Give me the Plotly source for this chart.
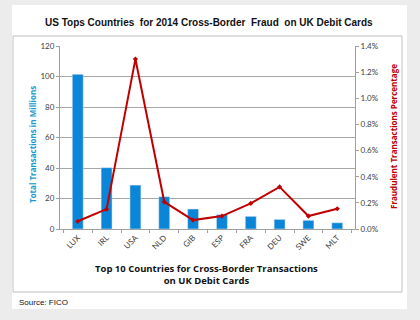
import plotly.graph_objects as go

countries = ["LUX", "IRL", "USA", "NLD", "GIB", "ESP", "FRA", "DEU", "SWE", "MLT"]
transactions_millions = [101.4, 40.2, 28.8, 21.2, 13.1, 9.4, 8.3, 6.3, 5.7, 4.1]
fraud_pct = [0.00059, 0.00152, 0.0130, 0.00208, 0.00068, 0.00099, 0.00196, 0.00322, 0.00099, 0.00155]

L, R, T, B = 60, 65, 46, 91
PW, PH = 420 - L - R, 320 - T - B


def px(x):
    return (x - L) / PW


def py(y):
    return (320 - B - y) / PH


fig = go.Figure()
fig.add_trace(go.Bar(x=countries, y=transactions_millions, marker_color="#0B85D8",
                     width=0.38, yaxis="y", showlegend=False))
fig.add_trace(go.Scatter(x=countries, y=fraud_pct, mode="lines+markers", yaxis="y2",
                         line=dict(color="#C00000", width=2),
                         marker=dict(color="#C00000", size=4, symbol="diamond"),
                         showlegend=False))

tickfont = dict(family="Lato, Arial, sans-serif", size=8, color="#404040")
boldfam = "Open Sans, Noto Sans, sans-serif"

fig.update_layout(
    width=420, height=320,
    margin=dict(l=L, r=R, t=T, b=B),
    paper_bgcolor="#ececec",
    plot_bgcolor="white",
    xaxis=dict(tickangle=-45, tickfont=tickfont, showline=True, linecolor="#a0a0a0",
               ticks="outside", ticklen=3, tickcolor="#a0a0a0", tickson="boundaries",
               showgrid=False),
    yaxis=dict(range=[0, 120], dtick=20, tickfont=tickfont, showline=True,
               linecolor="#a0a0a0", gridcolor="#a6a6a6", gridwidth=1, ticks="outside",
               ticklen=3, tickcolor="#a0a0a0", zeroline=False),
    yaxis2=dict(range=[0, 0.014], dtick=0.002, tickformat=".1%", overlaying="y",
                side="right", tickfont=tickfont, showline=True, linecolor="#a0a0a0",
                showgrid=False, ticks="outside", ticklen=3, tickcolor="#a0a0a0",
                zeroline=False),
    shapes=[
        dict(type="rect", xref="paper", yref="paper", x0=px(12), x1=px(407),
             y0=py(309), y1=py(5), fillcolor="white", line=dict(width=0), layer="below"),
        dict(type="rect", xref="paper", yref="paper", x0=px(13), x1=px(402),
             y0=py(292), y1=py(36), line=dict(color="#c0c0c0", width=1), layer="below"),
    ],
    annotations=[
        dict(text="<b>US Tops Countries  for 2014 Cross-Border  Fraud  on UK Debit Cards</b>",
             xref="paper", yref="paper", x=px(209), y=py(22), xanchor="center",
             yanchor="middle", showarrow=False,
             font=dict(family="Arial, Liberation Sans, sans-serif", size=10, color="#111111")),
        dict(text="<b>Total Transactions in Millions</b>", xref="paper", yref="paper",
             x=px(32), y=py(145), xanchor="center", yanchor="middle", textangle=-90,
             showarrow=False, font=dict(family=boldfam, size=8, color="#1A9BD0")),
        dict(text="<b>Fraudulent Transactions Percentage</b>", xref="paper", yref="paper",
             x=px(393), y=py(137), xanchor="center", yanchor="middle", textangle=-90,
             showarrow=False, font=dict(family=boldfam, size=8, color="#C00000")),
        dict(text="<b>Top 10 Countries for Cross-Border Transactions<br>on UK Debit Cards</b>",
             xref="paper", yref="paper", x=px(206), y=py(274), xanchor="center",
             yanchor="middle", showarrow=False,
             font=dict(family=boldfam, size=9.5, color="#111111")),
        dict(text="Source: FICO", xref="paper", yref="paper", x=px(17), y=py(302),
             xanchor="left", yanchor="middle", showarrow=False,
             font=dict(family="Arial, Liberation Sans, sans-serif", size=8, color="#111111")),
    ],
)

fig.write_html("out.html")
